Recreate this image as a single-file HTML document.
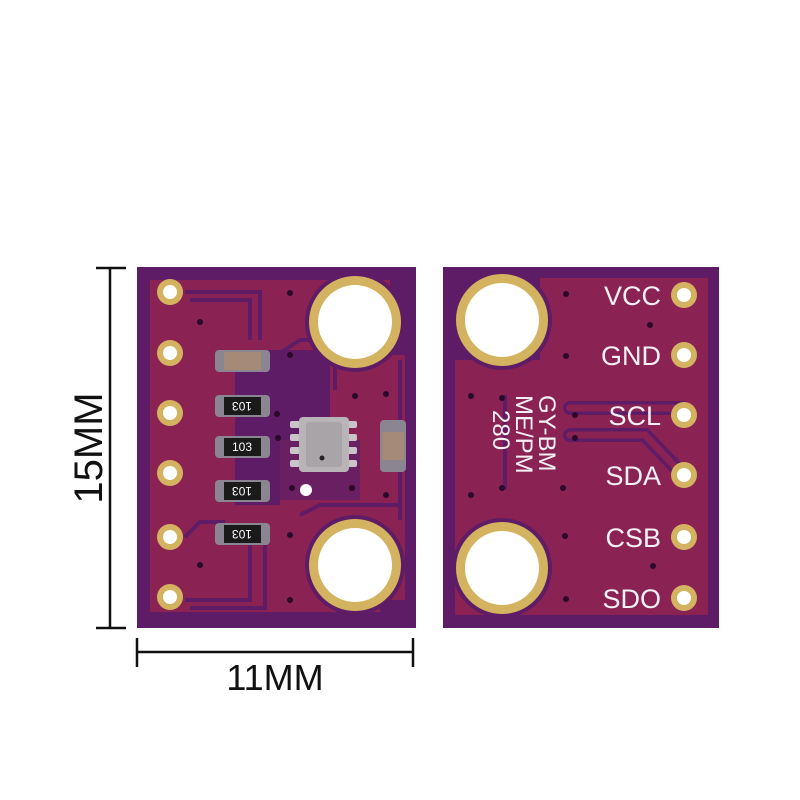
<!DOCTYPE html>
<html><head><meta charset="utf-8"><style>
html,body{margin:0;padding:0;background:#fff;width:800px;height:800px;overflow:hidden}
text{font-family:"Liberation Sans","DejaVu Sans",sans-serif}
</style></head><body>
<svg width="800" height="800" viewBox="0 0 800 800" xmlns="http://www.w3.org/2000/svg">
<rect width="800" height="800" fill="#fff"/>
<g stroke="#111" stroke-width="2.5" fill="none">
<line x1="110" y1="268" x2="110" y2="628"/>
<line x1="96" y1="268" x2="126" y2="268"/>
<line x1="96" y1="628" x2="126" y2="628"/>
<line x1="137" y1="652" x2="413" y2="652"/>
<line x1="137" y1="638" x2="137" y2="667"/>
<line x1="413" y1="638" x2="413" y2="667"/>
</g>
<text x="0" y="0" transform="translate(102,448) rotate(-90)" font-size="40" text-anchor="middle" fill="#111">15MM</text>
<text x="275" y="690" font-size="36" text-anchor="middle" fill="#111">11MM</text>

<rect x="137" y="267" width="279" height="361" fill="#5e1c66"/>
<path d="M150 280 H390 V355 H405 V600 H380 V612 H150 Z" fill="#8a2354"/>
<g fill="none" stroke="#5e1c66" stroke-width="4">
<path d="M185 292 H260 V340"/>
<path d="M190 300 H250 V340"/>
<path d="M185 537 L200 522 H225"/>
<path d="M185 600 H250 V545"/>
<path d="M190 608 H265 V545"/>
<path d="M270 360 L300 340 H325 L335 350 V390"/>
<path d="M400 360 V520"/>
<path d="M300 515 L320 505 H400"/>
</g>
<path d="M235 370 L260 350 H330 V440 H280 V505 H235 Z" fill="#5e1c66"/>
<path d="M280 440 H360 V500 H280 Z" fill="#6a1f62"/>
<g>
<circle cx="170" cy="292" r="13" fill="#d4b360"/><circle cx="170" cy="292" r="7" fill="#fff"/>
<circle cx="170" cy="353" r="13" fill="#d4b360"/><circle cx="170" cy="353" r="7" fill="#fff"/>
<circle cx="170" cy="413" r="13" fill="#d4b360"/><circle cx="170" cy="413" r="7" fill="#fff"/>
<circle cx="170" cy="473" r="13" fill="#d4b360"/><circle cx="170" cy="473" r="7" fill="#fff"/>
<circle cx="170" cy="537" r="13" fill="#d4b360"/><circle cx="170" cy="537" r="7" fill="#fff"/>
<circle cx="170" cy="597" r="13" fill="#d4b360"/><circle cx="170" cy="597" r="7" fill="#fff"/>
</g>
<circle cx="355" cy="322" r="50" fill="#5e1c66"/>
<circle cx="355" cy="322" r="46" fill="#d4b360"/><circle cx="355" cy="322" r="37" fill="#fff"/>
<circle cx="355" cy="565" r="50" fill="#5e1c66"/>
<circle cx="355" cy="565" r="46" fill="#d4b360"/><circle cx="355" cy="565" r="37" fill="#fff"/>
<g fill="#2a0a2a">
<circle cx="290" cy="293" r="3"/><circle cx="200" cy="322" r="3"/><circle cx="290" cy="355" r="3"/>
<circle cx="355" cy="396" r="3"/><circle cx="386" cy="394" r="3"/><circle cx="277" cy="414" r="3"/>
<circle cx="278" cy="438" r="3"/><circle cx="292" cy="488" r="3"/><circle cx="352" cy="488" r="3"/>
<circle cx="386" cy="495" r="3"/><circle cx="290" cy="535" r="3"/><circle cx="200" cy="565" r="3"/><circle cx="290" cy="600" r="3"/>
</g>
<circle cx="306" cy="490" r="6" fill="#fff"/>
<g>
<rect x="215" y="350" width="55" height="22" rx="4" fill="#8a8590"/><rect x="224" y="352" width="37" height="18" fill="#a58a78"/>
<rect x="215" y="395" width="55" height="22" rx="4" fill="#8a8590"/><rect x="224" y="397" width="37" height="18" fill="#1a1a1a"/>
<rect x="215" y="436" width="55" height="22" rx="4" fill="#8a8590"/><rect x="224" y="438" width="37" height="18" fill="#1a1a1a"/>
<rect x="215" y="480" width="55" height="22" rx="4" fill="#8a8590"/><rect x="224" y="482" width="37" height="18" fill="#1a1a1a"/>
<rect x="215" y="523" width="55" height="22" rx="4" fill="#8a8590"/><rect x="224" y="525" width="37" height="18" fill="#1a1a1a"/>
</g>
<g fill="#fff" font-size="12" text-anchor="middle">
<text transform="translate(242,406) rotate(180)" dy="4">103</text>
<text x="242" y="451">103</text>
<text transform="translate(242,491) rotate(180)" dy="4">103</text>
<text transform="translate(242,534) rotate(180)" dy="4">103</text>
</g>
<g fill="#c8c4c8">
<rect x="290" y="421" width="10" height="7" rx="2"/><rect x="290" y="434" width="10" height="7" rx="2"/><rect x="290" y="447" width="10" height="7" rx="2"/><rect x="290" y="460" width="10" height="7" rx="2"/>
<rect x="347" y="421" width="10" height="7" rx="2"/><rect x="347" y="434" width="10" height="7" rx="2"/><rect x="347" y="447" width="10" height="7" rx="2"/><rect x="347" y="460" width="10" height="7" rx="2"/>
</g>
<rect x="299" y="417" width="50" height="55" rx="4" fill="#b8b4b8"/>
<rect x="306" y="422" width="36" height="45" rx="3" fill="#a8a4a8"/>
<circle cx="322" cy="458" r="2.5" fill="#222"/>
<rect x="380" y="420" width="26" height="52" rx="4" fill="#8a8590"/><rect x="382" y="432" width="22" height="28" fill="#a58a78"/>

<rect x="443" y="267" width="276" height="361" fill="#5e1c66"/>
<path d="M540 278 H708 V615 H455 V360 H540 Z" fill="#8a2354"/>
<path d="M505 395 V490" stroke="#5e1c66" stroke-width="4" fill="none"/>
<path d="M570 408 H683 M570 435 H645 L683 475" stroke="#5e1c66" stroke-width="14" fill="none" stroke-linecap="round"/>
<path d="M570 408 H683 M570 435 H645 L683 475" stroke="#8a2354" stroke-width="7" fill="none" stroke-linecap="round"/>
<circle cx="502" cy="320" r="50" fill="#5e1c66"/>
<circle cx="502" cy="320" r="46" fill="#d4b360"/><circle cx="502" cy="320" r="37" fill="#fff"/>
<circle cx="502" cy="568" r="50" fill="#5e1c66"/>
<circle cx="502" cy="568" r="46" fill="#d4b360"/><circle cx="502" cy="568" r="37" fill="#fff"/>
<g>
<circle cx="684" cy="295" r="13" fill="#d4b360"/><circle cx="684" cy="295" r="7" fill="#fff"/>
<circle cx="684" cy="355" r="13" fill="#d4b360"/><circle cx="684" cy="355" r="7" fill="#fff"/>
<circle cx="684" cy="415" r="13" fill="#d4b360"/><circle cx="684" cy="415" r="7" fill="#fff"/>
<circle cx="684" cy="475" r="13" fill="#d4b360"/><circle cx="684" cy="475" r="7" fill="#fff"/>
<circle cx="684" cy="537" r="13" fill="#d4b360"/><circle cx="684" cy="537" r="7" fill="#fff"/>
<circle cx="684" cy="598" r="13" fill="#d4b360"/><circle cx="684" cy="598" r="7" fill="#fff"/>
</g>
<g fill="#2a0a2a">
<circle cx="566" cy="294" r="3"/><circle cx="650" cy="325" r="3"/><circle cx="566" cy="356" r="3"/>
<circle cx="471" cy="396" r="3"/><circle cx="502" cy="398" r="3"/><circle cx="575" cy="415" r="3"/><circle cx="575" cy="438" r="3"/>
<circle cx="502" cy="488" r="3"/><circle cx="563" cy="488" r="3"/><circle cx="471" cy="495" r="3"/>
<circle cx="565" cy="536" r="3"/><circle cx="653" cy="566" r="3"/><circle cx="566" cy="599" r="3"/>
</g>
<g fill="#f4f0f4" font-size="27" text-anchor="end">
<text x="661" y="305">VCC</text>
<text x="661" y="365">GND</text>
<text x="661" y="425">SCL</text>
<text x="661" y="485">SDA</text>
<text x="661" y="547">CSB</text>
<text x="661" y="608">SDO</text>
</g>
<g fill="#f4f0f4" font-size="24" font-family="Liberation Mono, monospace" style="font-family:'Liberation Mono',monospace">
<text transform="translate(539,395) rotate(90)">GY-BM</text>
<text transform="translate(516,395) rotate(90)">ME/PM</text>
<text transform="translate(493,410) rotate(90)">280</text>
</g>
</svg>
</body></html>
